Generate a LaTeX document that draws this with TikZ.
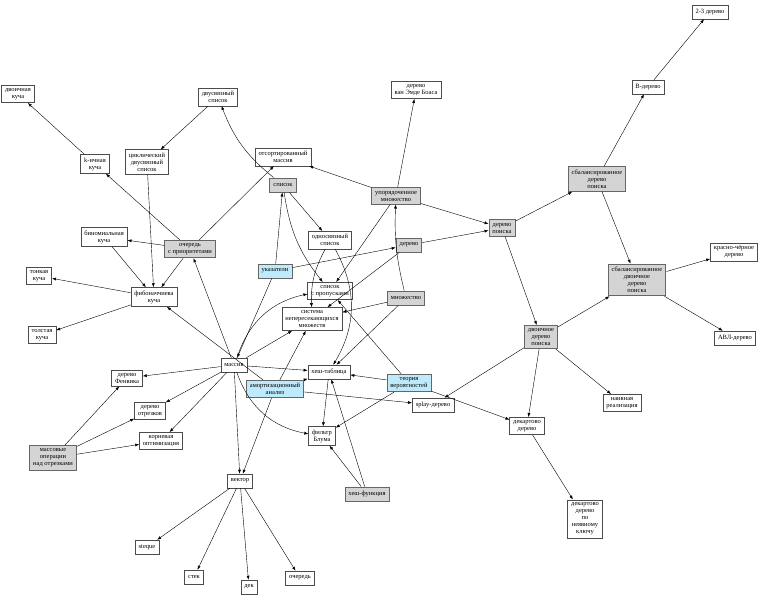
\documentclass[tikz,border=0pt]{standalone}
\usepackage{fontspec}
\setmainfont{Liberation Serif}
\usetikzlibrary{arrows.meta}
\begin{document}
\begin{tikzpicture}[x=1pt,y=-1pt,>={Latex[length=4pt,width=3pt]}]
	\tikzset{box/.style={draw=black!70,line width=0.5pt,fill=white,font=\fontsize{6.5}{7}\selectfont,align=center,inner xsep=3.5pt,inner ysep=3pt,minimum height=14pt}}
	\tikzset{gray/.style={box,fill=black!17,draw=black!60,line width=0.9pt}}
	\tikzset{blue/.style={box,fill=cyan!25,draw=black!60,line width=0.9pt}}
	\useasboundingbox (0,0) rectangle (762,599);
	\node[box]	(dk)	at (18,94)	{двоичная\\куча};
	\node[box]	(kk)	at (95,164)	{k-ичная\\куча};
	\node[box]	(dsp)	at (218,97)	{двусвязный\\список};
	\node[box]	(csp)	at (147,162)	{циклический\\двусвязный\\список};
	\node[box]	(om)	at (283,157)	{отсортированный\\массив};
	\node[gray]	(sp)	at (283,185)	{список};
	\node[box]	(veb)	at (416,90)	{дерево\\ван Эмде Боаса};
	\node[gray]	(um)	at (396,196)	{упорядоченное\\множество};
	\node[box]	(t23)	at (710,12)	{2-3 дерево};
	\node[box]	(bt)	at (648,87)	{B-дерево};
	\node[gray]	(sdp)	at (597,179)	{сбалансированное\\дерево\\поиска};
	\node[gray]	(dp)	at (502,228)	{дерево\\поиска};
	\node[box]	(bk)	at (104,237)	{биномиальная\\куча};
	\node[gray]	(op)	at (190,249)	{очередь\\с приоритетами};
	\node[blue]	(uk)	at (275,271)	{указатели};
	\node[box]	(osp)	at (330,240)	{односвязный\\список};
	\node[gray]	(der)	at (409,245)	{дерево};
	\node[gray]	(sddp)	at (637,280)	{сбалансированное\\двоичное\\дерево\\поиска};
	\node[box]	(kch)	at (734,252)	{красно-чёрное\\дерево};
	\node[box]	(tk)	at (39,276)	{тонкая\\куча};
	\node[box]	(fk)	at (154,297)	{фибоначчиева\\куча};
	\node[box]	(spp)	at (330,291)	{список\\с пропусками};
	\node[box]	(snm)	at (312,319)	{система\\непересекающихся\\множеств};
	\node[gray]	(mn)	at (406,298)	{множество};
	\node[gray]	(ddp)	at (541,337)	{двоичное\\дерево\\поиска};
	\node[box]	(avl)	at (735,338)	{АВЛ-дерево};
	\node[box]	(tlk)	at (42,335)	{толстая\\куча};
	\node[box]	(mas)	at (234,365)	{массив};
	\node[box]	(ht)	at (329,372)	{хеш-таблица};
	\node[blue]	(aa)	at (275,389)	{амортизационный\\анализ};
	\node[blue]	(tv)	at (409,383)	{теория\\вероятностей};
	\node[box]	(fen)	at (127,378)	{дерево\\Фенвика};
	\node[box]	(dot)	at (150,411)	{дерево\\отрезков};
	\node[box]	(ko)	at (161,441)	{корневая\\оптимизация};
	\node[box]	(spl)	at (433,405)	{splay-дерево};
	\node[box]	(nr)	at (622,403)	{наивная\\реализация};
	\node[box]	(fb)	at (322,436)	{фильтр\\Блума};
	\node[box]	(dd)	at (527,426)	{декартово\\дерево};
	\node[gray]	(mo)	at (53,458)	{массовые\\операции\\над отрезками};
	\node[box]	(vec)	at (240,481)	{вектор};
	\node[gray]	(hf)	at (367,494)	{хеш-функция};
	\node[box]	(ddn)	at (585,519)	{декартово\\дерево\\по\\неявному\\ключу};
	\node[box]	(stq)	at (147,547)	{steque};
	\node[box]	(st)	at (194,577)	{стек};
	\node[box]	(dek)	at (249,587)	{дек};
	\node[box]	(och)	at (300,578)	{очередь};

	\path[->]
		(kk) edge (dk)
		(op) edge (kk)
		(dsp) edge (csp)
		(csp) edge (fk)
		(sp) edge[bend left=15] (dsp)
		(op) edge (om)
		(op) edge (bk)
		(op) edge (fk)
		(bk) edge (fk)
		(fk) edge (tk)
		(fk) edge (tlk)
		(aa) edge (fk)
		(mas) edge (op)
		(uk) edge (sp)
		(sp) edge (osp)
		(sp) edge[bend right=15] (spp)
		(um) edge (om)
		(um) edge (veb)
		(um) edge (dp)
		(um) edge (spp)
		(mn) edge[bend left=8] (um)
		(uk) edge (der)
		(der) edge (dp)
		(der) edge (snm)
		(mn) edge (snm)
		(osp) edge[bend right=15] (snm)
		(osp) edge[bend left=30] (ht)
		(uk) edge (mas)
		(mas) edge[bend left=30] (spp)
		(mas) edge (snm)
		(aa) edge (snm)
		(mas) edge (ht)
		(aa) edge (ht)
		(mn) edge (ht)
		(tv) edge (ht)
		(tv) edge (spp)
		(tv) edge (fb)
		(tv) edge (dd)
		(aa) edge (spl)
		(ht) edge (fb)
		(hf) edge (fb)
		(hf) edge (ht)
		(mas) edge[bend right=30] (fb)
		(mas) edge (vec)
		(aa) edge (vec)
		(mas) edge (fen)
		(mas) edge (dot)
		(mas) edge (ko)
		(mo) edge (fen)
		(mo) edge (dot)
		(mo) edge (ko)
		(vec) edge (stq)
		(vec) edge (st)
		(vec) edge (dek)
		(vec) edge (och)
		(dp) edge (sdp)
		(dp) edge (ddp)
		(sdp) edge (bt)
		(bt) edge (t23)
		(sdp) edge (sddp)
		(ddp) edge (sddp)
		(sddp) edge (kch)
		(sddp) edge (avl)
		(ddp) edge (spl)
		(ddp) edge (dd)
		(ddp) edge (nr)
		(dd) edge (ddn)
		;
\end{tikzpicture}
\end{document}
